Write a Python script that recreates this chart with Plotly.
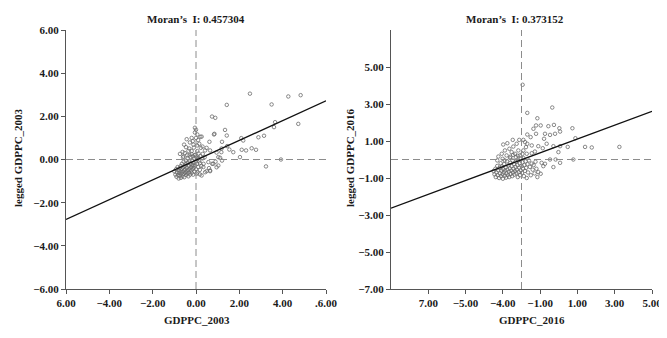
import plotly.graph_objects as go

# ---------------- data ----------------
title_03 = "Moran’s  I: 0.457304"
title_16 = "Moran’s  I: 0.373152"
xlabel_03 = "GDPPC_2003"
ylabel_03 = "legged GDPPC_2003"
xlabel_16 = "GDPPC_2016"
ylabel_16 = "legged GDPPC_2016"

x03_tickvals = [-6, -4, -2, 0, 2, 4, 6]
x03_ticktext = ["6.00", "−4.00", "−2.00", "0.00", "2.00", "4.00", ".6.00"]
y03_tickvals = [6, 4, 2, 0, -2, -4, -6]
y03_ticktext = ["6.00", "4.00", "2.00", "0.00", "−2.00", "−4.00", "−6.00"]

x16_tickvals = [-5, -3, -1, 1, 3, 5, 7]
x16_ticktext = ["7.00", "−5.00", "−4.00", "−1.00", "1.00", "3.00", "5.00"]
y16_tickvals = [5, 3, 1, -1, -3, -5, -7]
y16_ticktext = ["5.00", "3.00", "1.00", "−1.00", "−3.00", "−5.00", "−7.00"]

# regression line end points
fit03_x = [-6, 6]
fit03_y = [-2.78, 2.72]
fit16_x = [-7, 7]
fit16_y = [-2.63, 2.60]

# scatter points, 2003
x03 = [2.49, 4.26, 4.83, 1.42, 3.49, 0.74, 0.89, 4.72, 3.65, 3.60, 0.85, 1.34, 1.42, 2.09, 2.18,
       2.88, 3.14, 1.20, 1.54, 1.72, 2.11, 2.31, 2.77, 2.03, 3.92, 3.23, 1.11, 1.17, 1.44, 2.57, 0.95,
       -0.05, 0.00, 0.06, -0.20, -0.43, -0.55, -0.46, -0.28, -0.12, -0.31, -0.20, -0.62, -0.74, 0.15,
       0.22, 0.06, 0.31, -0.05, -0.40, -0.58, 0.11, 0.42, 0.62, 0.83, 0.65, 0.95, 1.18, 1.03, 0.26, 0.49,
       0.18, 0.34, 0.49, 0.65, 0.26, 0.03, 0.57, 0.80, 1.03, -0.12, 0.18, 0.42, 0.65,
       -1.00, -0.95, -0.92, -0.90, -0.88, -0.85, -0.83, -0.80, -0.80, -0.78, -0.76, -0.75, -0.72, -0.70,
       -0.70, -0.68, -0.66, -0.65, -0.63, -0.62, -0.60, -0.58, -0.57, -0.55, -0.54, -0.52, -0.50, -0.49,
       -0.47, -0.46, -0.45, -0.43, -0.42, -0.40, -0.39, -0.38, -0.36, -0.35, -0.33, -0.32, -0.30, -0.29,
       -0.27, -0.26, -0.25, -0.23, -0.22, -0.20, -0.19, -0.17, -0.16, -0.14, -0.13, -0.11, -0.10, -0.08,
       -0.07, -0.05, -0.03, -0.02, 0.00, 0.02, 0.04, 0.06, 0.08, 0.10, 0.12, 0.15, 0.18, 0.20, 0.25,
       0.30, 0.35, 0.40, -0.60, -0.52, -0.35, -0.20, -0.10, 0.05, -0.30, -0.15, 0.00, -0.05, 0.10, 0.20,
       0.30, 0.60, 0.75, 0.90, 1.20]
y03 = [3.05, 2.92, 2.98, 2.53, 2.55, 1.99, 1.93, 1.65, 1.73, 1.50, 1.19, 1.37, 1.11, 0.99, 0.88,
       1.03, 1.10, 0.82, 0.46, 0.34, 0.45, 0.42, 0.45, 0.11, 0.00, -0.32, 0.08, 0.34, 0.62, 0.52, -0.36,
       1.47, 1.38, 1.16, 1.00, 0.94, 0.69, 0.57, 0.79, 0.69, 0.51, 0.39, 0.35, 0.26, 0.73,
       0.54, 0.39, 0.26, 0.20, 0.20, 0.14, 0.08, 0.42, 0.82, 1.16, 0.42, 0.32, 0.51, 0.11, 1.06, 0.54,
       -0.17, -0.35, -0.54, -0.51, -0.74, -0.66, -0.12, -0.20, -0.28, -0.28, -0.69, -0.59, -0.54,
       -0.55, -0.70, -0.45, -0.80, -0.60, -0.35, -0.72, -0.50, -0.88, -0.62, -0.40, -0.75, -0.55, -0.30,
       -0.85, -0.65, -0.45, -0.20, -0.78, -0.58, -0.38, -0.68, -0.10, -0.50, -0.82, -0.30, -0.62, -0.45,
       -0.05, -0.72, -0.22, -0.55, -0.38, -0.65, 0.05, -0.15, -0.48, -0.78, -0.30, -0.60, -0.08, -0.42,
       -0.70, -0.20, 0.12, -0.52, -0.35, -0.62, -0.05, -0.25, -0.45, 0.15, -0.70, -0.15, -0.38, 0.05,
       -0.55, -0.28, 0.22, -0.10, -0.45, 0.10, -0.20, -0.60, 0.02, -0.35, 0.28, -0.08, -0.48, 0.15, -0.30,
       0.05, -0.20, 0.10, 0.10, 0.30, 0.40, 0.25, 0.55, 0.65, 0.20, 0.85, 1.00, 1.25, 0.90, 1.05,
       0.60, -0.40, -0.20, -0.10, -0.05]

# scatter points, 2016
x16 = [0.06, 0.31, 1.65, 0.85, 0.64, 1.03, 0.78, 1.44, 1.74, 2.03, 2.07, 1.80, 1.53, 1.26, 1.21,
       1.35, 1.71, 0.90, 1.14, 0.55, 0.31, 0.72, 2.07, 2.48, 2.73, 2.89, 3.41, 3.77, 5.25, 1.98,
       1.53, 1.83, 2.78, 2.07, 1.08, 1.26, 1.17, 1.71, 0.90, 1.03,
       0.31, 0.49, 0.78, 0.19, 0.24, 0.10, 0.10, 0.28, 0.55,
       -0.98, -0.76, -0.47, -0.65, -0.89, -1.06, -0.44, -0.26, -0.12, -0.53, -0.35, -0.80, -0.17,
       -0.08, -0.62, -0.30, -1.24, -1.01,
       -1.50, -1.45, -1.40, -1.38, -1.35, -1.30, -1.28, -1.25, -1.20, -1.18, -1.15, -1.12, -1.10,
       -1.08, -1.05, -1.02, -1.00, -0.98, -0.95, -0.93, -0.90, -0.88, -0.85, -0.83, -0.80, -0.78,
       -0.76, -0.73, -0.70, -0.68, -0.66, -0.63, -0.60, -0.58, -0.55, -0.53, -0.50, -0.48, -0.46,
       -0.43, -0.40, -0.38, -0.35, -0.32, -0.30, -0.27, -0.25, -0.22, -0.20, -0.18, -0.15, -0.12,
       -0.10, -0.08, -0.05, -0.03, 0.00, 0.03, 0.05, 0.08, 0.10, 0.13, 0.15, 0.18, 0.22, 0.25, 0.28,
       0.32, 0.35, 0.40, 0.45, 0.50, 0.55, 0.60, 0.65, 0.70, 0.75, 0.80, 0.85, -0.90, -0.60, -0.20,
       0.05, -1.30, -0.45]
y16 = [4.04, 2.52, 2.81, 2.23, 1.66, 1.84, 1.84, 1.80, 1.87, 1.69, 1.51, 1.39, 1.33, 1.39, 1.12,
       0.85, 0.72, 0.72, 0.61, 0.76, 0.85, 0.43, 0.72, 0.68, 1.69, 1.15, 0.68, 0.65, 0.68, 0.40,
       0.00, 0.00, 0.00, -0.18, -0.18, -0.23, -0.36, -0.41, -0.68, -0.77,
       1.35, 1.21, 1.39, 0.94, 0.67, 1.06, 0.49, 0.31, 0.34,
       0.81, 0.88, 1.06, 0.58, 0.49, 0.31, 0.70, 0.85, 1.06, 0.40, 0.31, 0.22, 0.49,
       0.22, 0.09, 0.13, 0.16, 0.04,
       -0.62, -0.80, -0.50, -0.95, -0.70, -0.35, -0.85, -0.58, -1.00, -0.45, -0.75, -0.20, -0.90,
       -0.60, -0.38, -0.80, -1.04, -0.52, -0.70, -0.25, -0.88, -0.60, -0.42, -0.98, -0.75, -0.10,
       -0.55, -0.85, -0.32, -0.66, -0.95, -0.48, -0.18, -0.78, -0.60, -0.35, -0.90, -0.05, -0.70,
       -0.50, -0.25, -0.82, -0.62, -0.40, -0.12, -0.75, -0.55, -0.30, -0.95, -0.05, -0.68, -0.45,
       -0.20, -0.85, -0.58, 0.05, -0.35, -0.72, -0.15, -0.50, 0.08, -0.90, -0.30, -0.62, -0.10, -0.45,
       -1.00, -0.25, -0.70, -0.05, -0.40, -0.85, -0.22, -0.55, -0.30, -0.75, -0.12, -0.50, -0.95,
       -0.05, 0.15, 0.20, 0.30, -0.05, 0.25]

# ---------------- figure ----------------
FONT = "Liberation Serif, Times New Roman, serif"
TXT = "#1a1a1a"
OFF = 8                      # page body margin of the browser
W, H = 667 - OFF, 338 - OFF  # figure fills the rest of the window

def px_x(p):
    return (p - OFF) / W

def px_y(p):
    return 1 - (p - OFF) / H

fig = go.Figure()

panels = [
    dict(xa="x", ya="y", xs=x03, ys=y03, fx=fit03_x, fy=fit03_y, rng=[-6, 6]),
    dict(xa="x2", ya="y2", xs=x16, ys=y16, fx=fit16_x, fy=fit16_y, rng=[-7, 7]),
]
for p in panels:
    fig.add_trace(go.Scatter(x=p["xs"], y=p["ys"], xaxis=p["xa"], yaxis=p["ya"], mode="markers",
                             marker=dict(symbol="circle-open", size=3.5, color="#6b6b6b",
                                         line=dict(width=0.8)),
                             showlegend=False, hoverinfo="skip"))
    fig.add_trace(go.Scatter(x=[0, 0], y=p["rng"], xaxis=p["xa"], yaxis=p["ya"], mode="lines",
                             line=dict(color="#8c8c8c", width=1, dash="7px,4px"),
                             showlegend=False, hoverinfo="skip"))
    fig.add_trace(go.Scatter(x=p["rng"], y=[0, 0], xaxis=p["xa"], yaxis=p["ya"], mode="lines",
                             line=dict(color="#8c8c8c", width=1, dash="7px,4px"),
                             showlegend=False, hoverinfo="skip"))
    fig.add_trace(go.Scatter(x=p["fx"], y=p["fy"], xaxis=p["xa"], yaxis=p["ya"], mode="lines",
                             line=dict(color="#111111", width=1.3),
                             showlegend=False, hoverinfo="skip"))

axis_common = dict(showline=True, linecolor="#555555", linewidth=1, ticks="outside", ticklen=4,
                   tickcolor="#555555", showgrid=False, zeroline=False, mirror=False,
                   automargin=False,
                   tickfont=dict(family=FONT, size=11, color=TXT, weight="bold"))

ydom = [px_y(289), px_y(30)]
fig.update_layout(
    template="none",
    width=W, height=H, margin=dict(l=0, r=0, t=0, b=0, pad=0), autosize=False,
    paper_bgcolor="white", plot_bgcolor="white",
    xaxis=dict(domain=[px_x(66), px_x(326)], range=[-6, 6], anchor="y",
               tickvals=x03_tickvals, ticktext=x03_ticktext, **axis_common),
    yaxis=dict(domain=ydom, range=[-6, 6], anchor="x",
               tickvals=y03_tickvals, ticktext=y03_ticktext, **axis_common),
    xaxis2=dict(domain=[px_x(391), px_x(652)], range=[-7, 7], anchor="y2",
                tickvals=x16_tickvals, ticktext=x16_ticktext, **axis_common),
    yaxis2=dict(domain=ydom, range=[-7, 7], anchor="x2",
                tickvals=y16_tickvals, ticktext=y16_ticktext, **axis_common),
)

def ann(text, x, y, size=11, angle=0, bold=True):
    fig.add_annotation(text=text, x=px_x(x), y=px_y(y), xref="paper", yref="paper",
                       showarrow=False, textangle=angle, xanchor="center", yanchor="middle",
                       font=dict(family=FONT, size=size, color=TXT, weight="bold" if bold else "normal"))

ann(title_03, 196, 19)
ann(title_16, 515, 19)
ann(xlabel_03, 197, 320)
ann(xlabel_16, 532, 320)
ann(ylabel_03, 18, 158, angle=-90)
ann(ylabel_16, 350, 158, angle=-90)

fig.write_html("out.html")
